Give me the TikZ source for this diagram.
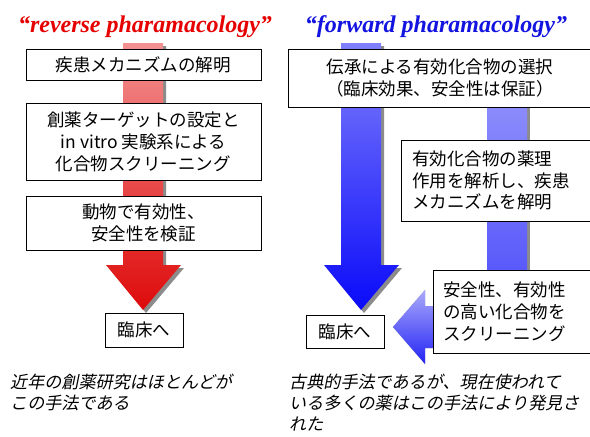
\documentclass[tikz,border=0pt]{standalone}
\usepackage{fontspec}
\setmainfont{Liberation Serif}
\newfontfamily\jp{Noto Sans CJK JP}
\newfontfamily\jpit[FakeSlant=0.2]{Noto Sans CJK JP}
\definecolor{tred}{RGB}{230,0,0}
\definecolor{tblue}{RGB}{20,20,225}
\definecolor{redtop}{RGB}{243,145,145}
\definecolor{redbot}{RGB}{222,10,10}
\definecolor{bluetop}{RGB}{128,128,252}
\definecolor{bluebot}{RGB}{10,10,250}
\definecolor{b2top}{RGB}{148,148,252}
\definecolor{b2bot}{RGB}{80,80,250}
\definecolor{b3top}{RGB}{170,170,252}
\definecolor{b3bot}{RGB}{35,35,245}
\definecolor{shadowgray}{RGB}{140,140,140}
\begin{document}
\begin{tikzpicture}[x=1pt,y=-1pt,
  box/.style={draw=black,line width=1pt,fill=white,inner sep=0pt,font=\jp\fontsize{17.5}{22}\selectfont,align=center},
  lbox/.style={draw=black,line width=1pt,fill=white,inner ysep=0pt,font=\jp\fontsize{17.5}{21.8}\selectfont,align=left},
  title/.style={font=\bfseries\itshape\fontsize{24}{28}\selectfont},
  caption/.style={font=\jpit\fontsize{17.1}{21}\selectfont,align=left,inner sep=0pt,anchor=north west},
  shadow/.style={fill=shadowgray}
]
\useasboundingbox (0,0) rectangle (590,437);
\clip (0,0) rectangle (590,437);
\fill[white] (0,0) rectangle (590,437);

% titles
\node[title,text=tred] (t1) at (145,27) {“reverse pharamacology”};
\node[title,text=tblue] (t2) at (436,27) {“forward pharamacology”};

% red arrow
\fill[shadow] ([shift={(3,3)}]123,43) -- ++(40,0) -- ++(0,222) -- ++(18,0) -- ++(-38,45) -- ++(-37,-45) -- ++(17,0) -- cycle;
\shade[top color=redtop,bottom color=redbot] (123,43) -- (163,43) -- (163,265) -- (181,265) -- (143,310) -- (106,265) -- (123,265) -- cycle;

% big blue arrow
\fill[shadow] ([shift={(3,3)}]341,43) -- ++(40,0) -- ++(0,222) -- ++(18,0) -- ++(-38,45) -- ++(-37,-45) -- ++(17,0) -- cycle;
\shade[top color=bluetop,bottom color=bluebot] (341,43) -- (381,43) -- (381,265) -- (399,265) -- (361,310) -- (324,265) -- (341,265) -- cycle;

% second blue shaft
\fill[shadow] (490,80) rectangle (530,300);
\shade[top color=b2top,bottom color=b2bot] (487,80) rectangle (527,300);

% left-pointing arrow
\fill[shadow] ([shift={(3,3)}]460,306) -- (425,306) -- (425,290) -- (393,327) -- (425,364) -- (425,348) -- (460,348) -- cycle;
\shade[top color=b3top,bottom color=b3bot] (460,306) -- (425,306) -- (425,290) -- (393,327) -- (425,364) -- (425,348) -- (460,348) -- cycle;

% left boxes
\node[box,minimum width=235,minimum height=31] (l1) at (143.5,64.5) {疾患メカニズムの解明};
\node[box,minimum width=235,minimum height=77] (l2) at (143.5,141.5) {創薬ターゲットの設定と\\in vitro 実験系による\\化合物スクリーニング};
\node[box,minimum width=235,minimum height=54] (l3) at (143.5,223) {動物で有効性、\\安全性を検証};
\node[box,minimum width=78,minimum height=34] (l4) at (144,330) {臨床へ};

% right boxes
\node[box,minimum width=304,minimum height=58] (r1) at (440,78) {伝承による有効化合物の選択\\（臨床効果、安全性は保証）};
\node[lbox,inner xsep=11pt,text width=200pt,minimum height=81] (r2) at (512,180.5) {有効化合物の薬理\\作用を解析し、疾患\\メカニズムを解明};
\node[lbox,inner xsep=10pt,text width=200pt,minimum height=83] (r3) at (543,311.5) {安全性、有効性\\の高い化合物を\\スクリーニング};
\node[box,minimum width=78,minimum height=33] (r4) at (345,331.5) {臨床へ};

% captions
\node[caption] (c1) at (10,374) {近年の創薬研究はほとんどが\\この手法である};
\node[caption] (c2) at (289,374) {古典的手法であるが、現在使われて\\いる多くの薬はこの手法により発見さ\\れた};
\end{tikzpicture}
\end{document}
